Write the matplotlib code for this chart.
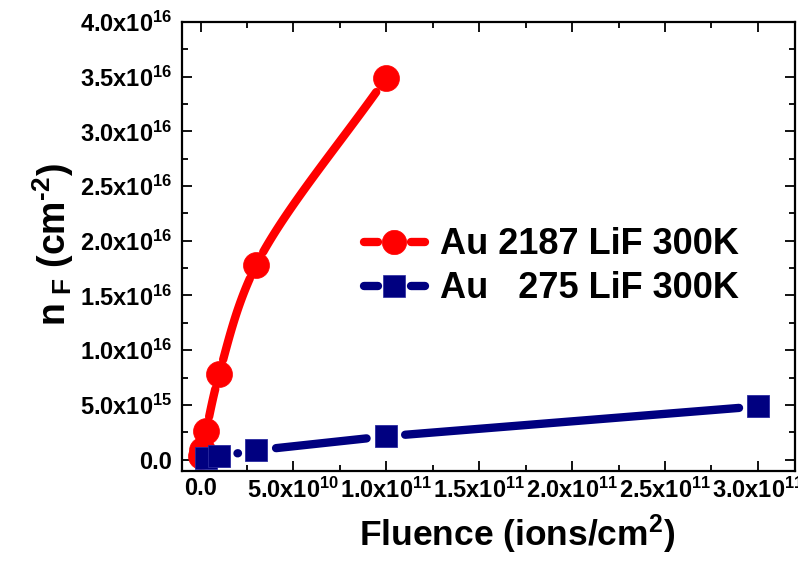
import numpy as np
import matplotlib
matplotlib.use("Agg")
import matplotlib.pyplot as plt
from matplotlib.ticker import FuncFormatter, MultipleLocator
from matplotlib.legend_handler import HandlerBase
from matplotlib.lines import Line2D

plt.rcParams.update({
    "font.family": ["Liberation Sans", "DejaVu Sans"],
    "font.weight": "bold",
    "mathtext.fontset": "custom",
    "mathtext.rm": "Liberation Sans:bold",
    "mathtext.it": "Liberation Sans:bold",
    "mathtext.bf": "Liberation Sans:bold",
    "mathtext.sf": "Liberation Sans:bold",
})

# ---- data -------------------------------------------------------------
fluence_2187 = [3e8, 1e9, 3e9, 1e10, 3e10, 1e11]
nf_2187 = [0.03e16, 0.09e16, 0.26e16, 0.78e16, 1.78e16, 3.49e16]

fluence_275 = [3e9, 1e10, 3e10, 1e11, 3e11]
nf_275 = [1.5e14, 3.0e14, 8.5e14, 2.13e15, 4.86e15]

labels = ["Au 2187 LiF 300K", "Au   275 LiF 300K"]
colors = ["#FF0000", "#000080"]

x_range = (-1e10, 3.2e11)
y_range = (-1e15, 4e16)

# ---- styling ----------------------------------------------------------
LW = 6.0          # line width (pt)
MS_CIRCLE = 18.7
MS_SQUARE = 16.0

fig = plt.figure(figsize=(7.98, 5.67), dpi=100)
ax = fig.add_axes([182 / 798, 1 - 470.5 / 567, 613 / 798, 448.5 / 567])
ax.set_xlim(*x_range)
ax.set_ylim(*y_range)


def sci_label(v, pos=None):
    if abs(v) < 1e-30:
        return "0.0"
    exp = int(np.floor(np.log10(abs(v)) + 1e-9))
    mant = v / 10 ** exp
    return f"{mant:.1f}x10$^{{{exp}}}$"


ax.xaxis.set_major_locator(MultipleLocator(5e10))
ax.xaxis.set_minor_locator(MultipleLocator(2.5e10))
ax.yaxis.set_major_locator(MultipleLocator(5e15))
ax.yaxis.set_minor_locator(MultipleLocator(2.5e15))
ax.xaxis.set_major_formatter(FuncFormatter(sci_label))
ax.yaxis.set_major_formatter(FuncFormatter(sci_label))

ax.tick_params(which="both", direction="in", top=True, right=True,
               width=1.3, labelsize=17)
ax.tick_params(which="major", length=7)
ax.tick_params(which="minor", length=4)
ax.tick_params(axis="x", pad=5)
ax.tick_params(axis="y", pad=7)
for s in ax.spines.values():
    s.set_linewidth(1.6)

ax.set_xlabel("Fluence (ions/cm$^{2}$)", fontsize=25.5, fontweight="bold")
ax.set_ylabel("n$_{\\ F}$ (cm$^{\\text{-2}}$)", fontsize=27, fontweight="bold")
ax.xaxis.set_label_coords(0.547, -0.094)
ax.yaxis.set_label_coords(-0.173, 0.503)


# ---- connectors with a gap around each symbol --------------------------
def catmull_rom(P, n=80, alpha=0.5):
    P = np.asarray(P, float)
    ext = np.vstack([2 * P[0] - P[1], P, 2 * P[-1] - P[-2]])
    segs = []
    for i in range(1, len(ext) - 2):
        p0, p1, p2, p3 = ext[i - 1:i + 3]
        t0 = 0.0
        t1 = t0 + max(np.linalg.norm(p1 - p0), 1e-6) ** alpha
        t2 = t1 + max(np.linalg.norm(p2 - p1), 1e-6) ** alpha
        t3 = t2 + max(np.linalg.norm(p3 - p2), 1e-6) ** alpha
        t = np.linspace(t1, t2, n)[:, None]
        a1 = (t1 - t) / (t1 - t0) * p0 + (t - t0) / (t1 - t0) * p1
        a2 = (t2 - t) / (t2 - t1) * p1 + (t - t1) / (t2 - t1) * p2
        a3 = (t3 - t) / (t3 - t2) * p2 + (t - t2) / (t3 - t2) * p3
        b1 = (t2 - t) / (t2 - t0) * a1 + (t - t0) / (t2 - t0) * a2
        b2 = (t3 - t) / (t3 - t1) * a2 + (t - t1) / (t3 - t1) * a3
        c = (t2 - t) / (t2 - t1) * b1 + (t - t1) / (t2 - t1) * b2
        segs.append(c)
    return segs


def straight(P, n=80):
    P = np.asarray(P, float)
    t = np.linspace(0, 1, n)[:, None]
    return [P[i] + t * (P[i + 1] - P[i]) for i in range(len(P) - 1)]


def gapped_connector(xs, ys, color, smooth, gap_pt):
    pts = ax.transData.transform(np.column_stack([xs, ys]))
    gap_px = gap_pt * fig.dpi / 72.0
    segs = catmull_rom(pts) if smooth else straight(pts)
    inv = ax.transData.inverted()
    for i, seg in enumerate(segs):
        a, b = pts[i], pts[i + 1]
        keep = (np.hypot(*(seg - a).T) >= gap_px) & (np.hypot(*(seg - b).T) >= gap_px)
        part = seg[keep]
        if len(part) < 2:
            m = seg[len(seg) // 2]
            d = (b - a) / max(np.linalg.norm(b - a), 1e-9)
            part = np.vstack([m - 0.3 * d, m + 0.3 * d])
        dat = inv.transform(part)
        ax.plot(dat[:, 0], dat[:, 1], color=color, lw=LW,
                solid_capstyle="round", solid_joinstyle="round", zorder=2)


gapped_connector(fluence_2187, nf_2187, colors[0], smooth=True, gap_pt=10.5)
ax.plot(fluence_2187, nf_2187, ls="none", marker="o", ms=MS_CIRCLE,
        color=colors[0], mec=colors[0], mew=0.5, zorder=3)

gapped_connector(fluence_275, nf_275, colors[1], smooth=False, gap_pt=13.3)
ax.plot(fluence_275, nf_275, ls="none", marker="s", ms=MS_SQUARE,
        color=colors[1], mec="#2a2aa0", mew=0.6, zorder=5)


# ---- legend keys: line - symbol - line ---------------------------------
class GapHandler(HandlerBase):
    def create_artists(self, legend, orig_handle, xdescent, ydescent,
                       width, height, fontsize, trans):
        y = height / 2 - ydescent
        x0 = -xdescent
        x1 = x0 + width
        xm = (x0 + x1) / 2
        g = 12.0
        c = orig_handle.get_color()
        kw = dict(color=c, lw=LW, solid_capstyle="round", transform=trans)
        left = Line2D([x0, xm - g], [y, y], **kw)
        right = Line2D([xm + g, x1], [y, y], **kw)
        mk = Line2D([xm], [y], ls="none", marker=orig_handle.get_marker(),
                    ms=orig_handle.get_markersize(), color=c,
                    mec=orig_handle.get_markeredgecolor(), mew=0.5,
                    transform=trans)
        return [left, right, mk]


proxies = [
    Line2D([], [], color=colors[0], marker="o", ms=17.5, mec=colors[0]),
    Line2D([], [], color=colors[1], marker="s", ms=16.3, mec="#2a2aa0"),
]
ax.legend(proxies, labels, handler_map={Line2D: GapHandler()},
          loc="center left", bbox_to_anchor=(364 / 798, 1 - 266.8 / 567),
          bbox_transform=fig.transFigure, frameon=False,
          borderpad=0, borderaxespad=0, handlelength=1.68,
          handletextpad=0.42, labelspacing=0.25,
          prop={"weight": "bold", "size": 26})

fig.savefig("out.png", dpi=100)
